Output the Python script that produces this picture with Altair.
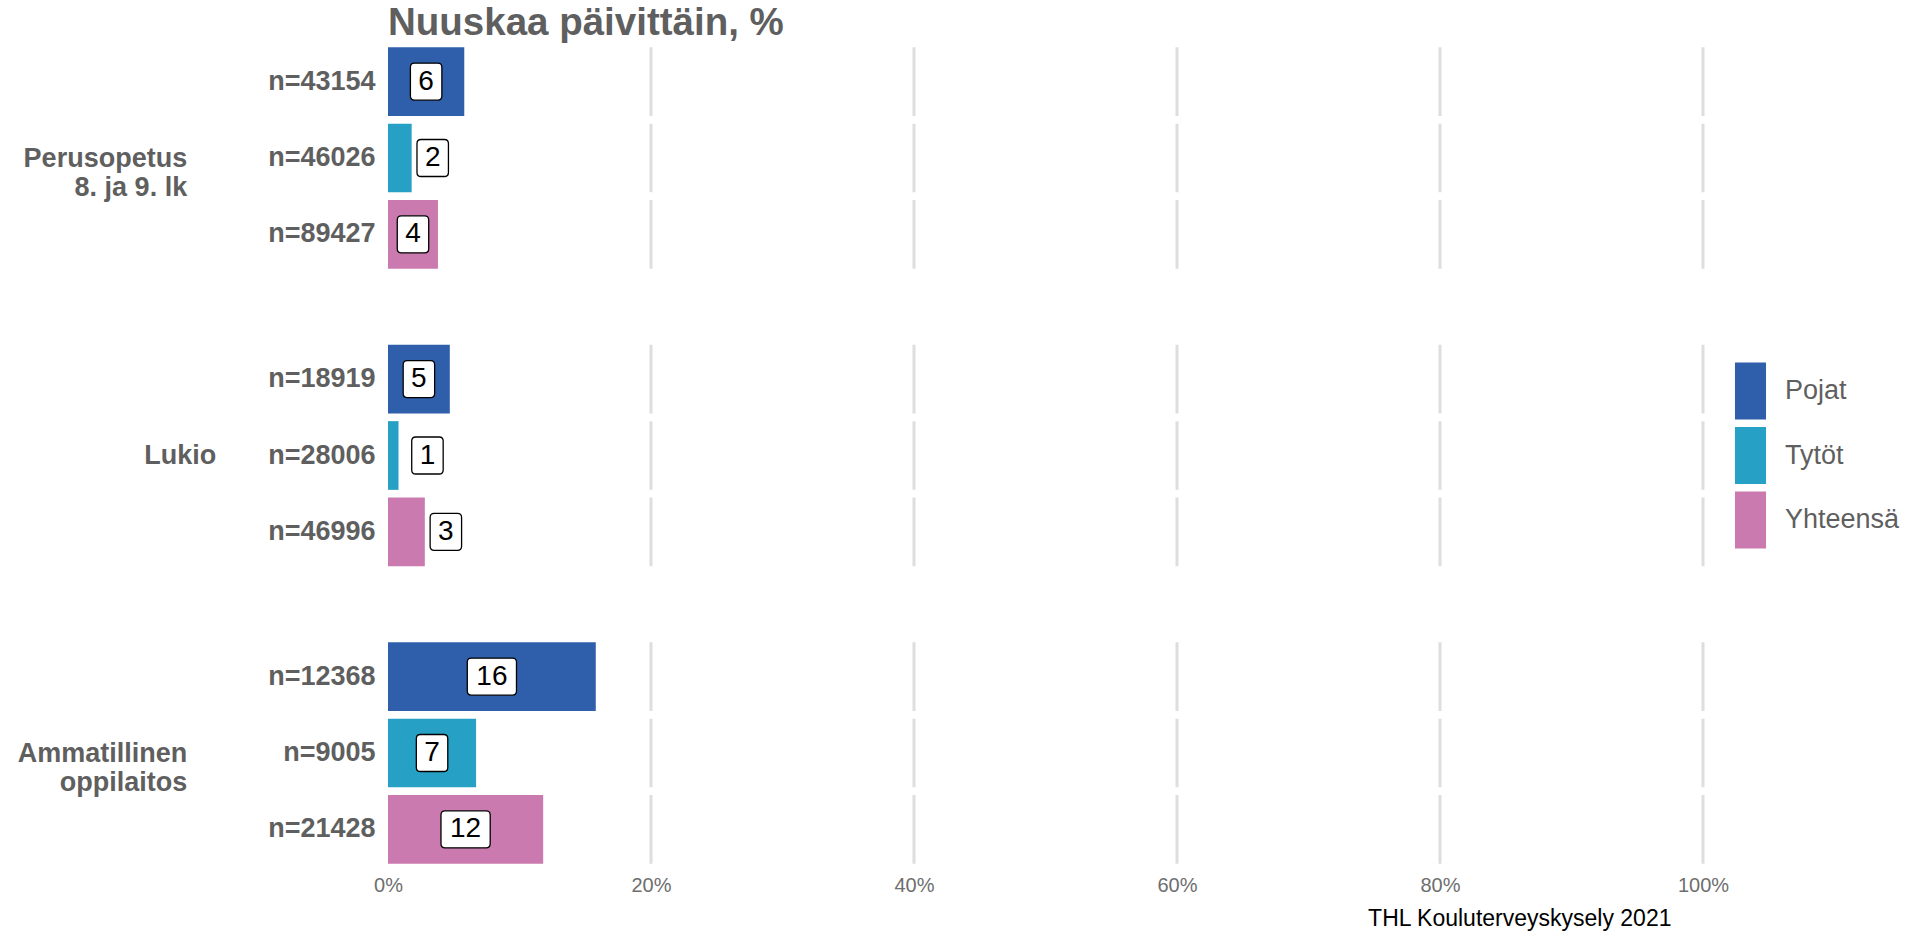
import altair as alt
import pandas as pd

# ---- data ----
group_keys = ["Perusopetus", "Lukio", "Ammatillinen"]
group_titles = [["Perusopetus", "8. ja 9. lk"], ["Lukio"], ["Ammatillinen", "oppilaitos"]]
sexes = ["Pojat", "Tytöt", "Yhteensä"]
pojat_pct = [5.8, 4.7, 15.8]
tytot_pct = [1.8, 0.8, 6.7]
yht_pct = [3.8, 2.8, 11.8]
pojat_n = [43154, 18919, 12368]
tytot_n = [46026, 28006, 9005]
yht_n = [89427, 46996, 21428]
grid_values = [20, 40, 60, 80, 100]
x_ticks = [0, 20, 40, 60, 80, 100]
colors = ["#2F5FAA", "#26A0C4", "#CA7AAE"]

title_text = "Nuuskaa päivittäin, %"
caption_text = "THL Kouluterveyskysely 2021"

rows = []
for gi, g in enumerate(group_keys):
    for s, pct, n in zip(sexes, [pojat_pct, tytot_pct, yht_pct], [pojat_n, tytot_n, yht_n]):
        rows.append({"group": g, "sex": s, "value": pct[gi], "n": n[gi], "nlabel": f"n={n[gi]}"})
df = pd.DataFrame(rows)

FONT = "Liberation Sans"
GREY = "#5f5f5f"
PLOT_W = 1315
PLOT_H = 229


def rrect(w, r=0.22):
    return (f"M{-w + r},-1L{w - r},-1Q{w},-1 {w},{-1 + r}L{w},{1 - r}Q{w},1 {w - r},1"
            f"L{-w + r},1Q{-w},1 {-w},{1 - r}L{-w},{-1 + r}Q{-w},-1 {-w + r},-1Z")


box_paths = [rrect(0.85), rrect(1.33)]
legend_symbol = "M-0.545,-1L0.545,-1L0.545,1L-0.545,1Z"


def group_chart(i, show_x, title=None):
    d = df[df["group"] == group_keys[i]].reset_index(drop=True)
    order = list(d["nlabel"])
    y = alt.Y(
        "nlabel:N",
        sort=order,
        scale=alt.Scale(paddingInner=0.1, paddingOuter=0.05),
        axis=alt.Axis(
            title=group_titles[i], titleAngle=0, titleAlign="right", titleBaseline="middle",
            titleFontSize=27, titleFontWeight="bold", titleColor=GREY, titlePadding=52,
            titleLineHeight=29, titleFont=FONT,
            labelFontSize=27, labelFontWeight="bold", labelColor=GREY, labelPadding=13,
            labelFont=FONT, ticks=False, domain=False, grid=False,
        ),
    )
    if show_x:
        xaxis = alt.Axis(
            values=x_ticks, labelExpr="datum.value + '%'", labelFontSize=20,
            labelColor="#6e6e6e", labelPadding=8, labelFlush=False, labelFont=FONT,
            ticks=False, domain=False, grid=False,
            title=caption_text, titleFontSize=23, titleFontWeight="normal",
            titleColor="black", titleFont=FONT, titleAlign="right", titleX=1283,
            titlePadding=12,
        )
    else:
        xaxis = None
    xscale = alt.Scale(domain=[0, 100], nice=False, zero=True)

    grid_df = d[["nlabel"]].merge(pd.DataFrame({"g": grid_values}), how="cross")
    grid = alt.Chart(grid_df).mark_rect(stroke="#DEDEDE", strokeWidth=3, fill="#DEDEDE").encode(
        x=alt.X("g:Q", scale=xscale, axis=xaxis), x2="g:Q", y=y
    )
    bars = alt.Chart(d).mark_bar().encode(
        x=alt.X("value:Q", scale=xscale, axis=xaxis),
        y=y,
        color=alt.Color(
            "sex:N",
            scale=alt.Scale(domain=sexes, range=colors),
            legend=alt.Legend(
                title=None, orient="none", legendX=1334, legendY=319,
                symbolType=legend_symbol, symbolSize=3249, symbolStrokeWidth=0,
                symbolOpacity=1, labelFontSize=27, labelColor=GREY, labelFont=FONT,
                labelOffset=6, rowPadding=7.5, padding=0, labelLimit=400,
            ),
        ),
    )
    lab = alt.Chart(d).transform_calculate(
        lpos="datum.value < 3.5 ? max(datum.value + 1.6, 3) : datum.value / 2",
        lab="format(datum.value, '.0f')",
    ).transform_calculate(digits="length(datum.lab) + ''")
    boxes = lab.mark_point(filled=True, fill="white", stroke="black", strokeWidth=1.3,
                           size=1369, opacity=1).encode(
        x=alt.X("lpos:Q", scale=xscale, axis=xaxis),
        y=y,
        shape=alt.Shape("digits:N", scale=alt.Scale(domain=["1", "2"], range=box_paths), legend=None),
    )
    texts = lab.mark_text(fontSize=28, color="black", font=FONT, baseline="middle").encode(
        x=alt.X("lpos:Q", scale=xscale, axis=xaxis), y=y, text="lab:N"
    )
    props = dict(width=PLOT_W, height=PLOT_H)
    if title is not None:
        props["title"] = alt.TitleParams(
            title, anchor="start", frame="group", fontSize=38.5, fontWeight="bold",
            color=GREY, font=FONT, offset=0,
        )
    return alt.layer(grid, bars, boxes, texts).properties(**props)


chart = alt.vconcat(
    group_chart(0, False, title_text),
    group_chart(1, False),
    group_chart(2, True),
    spacing=68.5,
).properties(
    background="white",
    padding={"left": 17, "top": 3.5, "right": 5, "bottom": 0},
).configure_view(stroke=None)

chart.save("out.html", embed_options={"renderer": "svg", "actions": False})
